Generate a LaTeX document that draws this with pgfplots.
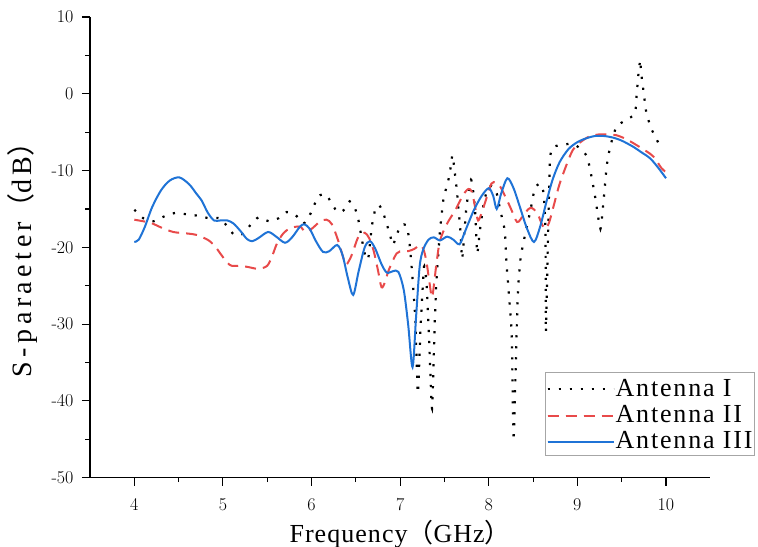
\documentclass[border=0pt]{standalone}
\usepackage{pgfplots}
\pgfplotsset{compat=1.18}
\usepackage{fontspec}
\setmainfont{Liberation Serif}
\newfontfamily\labelfont[LetterSpace=4]{Liberation Serif}
\newfontfamily\ylabelfont[LetterSpace=16]{Liberation Serif}
\newfontfamily\legendfont[LetterSpace=7]{Liberation Serif}
\newfontfamily\tickfont{Latin Modern Roman}
\newfontfamily\cjk{Noto Sans CJK SC}
\newcommand\lp{{\cjk （}}
\newcommand\rp{{\cjk ）}}

\definecolor{antA}{RGB}{0,0,0}
\definecolor{antB}{RGB}{232,74,74}
\definecolor{antC}{RGB}{31,115,214}

\pgfplotstableread{
f dB
4.00 -15.1
4.10 -16.2
4.22 -16.6
4.35 -15.9
4.47 -15.5
4.59 -15.7
4.73 -15.9
4.84 -16.2
4.97 -16.2
5.05 -17.3
5.13 -18.4
5.23 -18.2
5.31 -17.1
5.40 -16.1
5.52 -16.6
5.63 -16.2
5.72 -15.4
5.82 -15.8
5.91 -16.9
5.98 -15.8
6.03 -14.5
6.08 -13.3
6.16 -13.1
6.23 -14.3
6.29 -15.4
6.36 -15.2
6.43 -14.0
6.49 -14.9
6.53 -16.5
6.57 -19.1
6.61 -21.3
6.64 -21.5
6.68 -17.3
6.72 -15.0
6.76 -14.5
6.80 -15.2
6.85 -17.0
6.89 -18.6
6.92 -19.7
6.96 -18.4
7.01 -17.1
7.07 -17.1
7.10 -18.8
7.13 -22.6
7.17 -29.1
7.20 -39.0
7.23 -30.5
7.27 -22.5
7.30 -25.0
7.33 -33.0
7.36 -41.0
7.39 -30.0
7.41 -24.3
7.45 -17.8
7.49 -13.6
7.53 -11.9
7.56 -10.4
7.59 -8.0
7.62 -10.6
7.64 -12.6
7.66 -15.2
7.68 -17.8
7.70 -21.5
7.73 -17.3
7.75 -14.5
7.80 -11.2
7.83 -13.2
7.85 -16.0
7.87 -20.8
7.90 -17.8
7.94 -14.5
7.98 -12.6
8.03 -12.0
8.09 -13.0
8.13 -15.2
8.18 -17.8
8.20 -22.1
8.23 -26.5
8.26 -31.7
8.28 -45.2
8.31 -33.0
8.33 -25.6
8.36 -21.3
8.42 -17.8
8.47 -15.2
8.52 -12.3
8.58 -11.7
8.62 -13.0
8.64 -17.8
8.645 -31.0
8.665 -20.4
8.69 -8.7
8.72 -7.0
8.80 -6.7
8.94 -6.5
9.03 -7.1
9.11 -8.2
9.16 -10.8
9.20 -13.4
9.26 -17.6
9.30 -13.4
9.33 -9.5
9.37 -6.9
9.44 -4.3
9.55 -3.4
9.65 -2.6
9.67 0.0
9.69 2.7
9.71 4.4
9.72 2.7
9.75 0.0
9.78 -2.6
9.84 -4.7
9.88 -5.6
9.94 -7.0
}\antennaI

\pgfplotstableread{
f dB
4.00 -16.4
4.18 -16.8
4.30 -17.4
4.44 -18.0
4.60 -18.2
4.71 -18.4
4.84 -19.1
4.92 -20.0
4.97 -20.8
5.05 -22.0
5.10 -22.4
5.20 -22.4
5.30 -22.6
5.40 -22.8
5.50 -22.4
5.56 -21.0
5.61 -19.5
5.68 -18.2
5.76 -17.5
5.87 -17.3
5.93 -18.0
6.00 -17.6
6.10 -16.6
6.17 -16.4
6.23 -17.0
6.30 -19.1
6.38 -22.1
6.42 -21.8
6.46 -20.8
6.53 -18.6
6.60 -18.1
6.65 -18.8
6.70 -20.4
6.75 -23.0
6.79 -25.2
6.83 -24.5
6.87 -23.0
6.96 -20.8
7.03 -20.5
7.09 -20.5
7.16 -20.2
7.23 -19.7
7.27 -20.5
7.30 -22.1
7.33 -24.5
7.36 -26.5
7.39 -24.0
7.41 -22.1
7.45 -19.1
7.53 -16.9
7.62 -15.2
7.71 -13.2
7.77 -12.4
7.81 -12.8
7.85 -15.0
7.88 -16.5
7.92 -15.5
7.96 -14.1
8.03 -11.7
8.08 -11.6
8.13 -12.1
8.24 -14.7
8.32 -16.7
8.39 -15.8
8.45 -15.0
8.49 -14.9
8.55 -15.6
8.60 -17.0
8.64 -17.6
8.68 -16.8
8.73 -14.7
8.79 -12.1
8.84 -10.4
8.95 -7.3
9.07 -6.0
9.15 -5.5
9.24 -5.3
9.34 -5.3
9.44 -5.4
9.55 -5.9
9.67 -6.7
9.78 -7.5
9.86 -8.2
9.95 -9.7
10.00 -10.2
}\antennaII

\pgfplotstableread{
f dB
4.00 -19.3
4.05 -19.0
4.12 -17.3
4.20 -14.8
4.30 -12.6
4.40 -11.3
4.51 -10.9
4.62 -11.8
4.70 -13.0
4.76 -13.9
4.83 -15.5
4.90 -16.5
4.97 -16.5
5.05 -16.5
5.12 -16.9
5.20 -17.9
5.27 -18.9
5.33 -19.2
5.40 -18.8
5.51 -18.0
5.60 -18.6
5.70 -19.4
5.78 -18.7
5.87 -17.3
5.92 -17.0
5.98 -17.6
6.05 -19.2
6.13 -20.6
6.20 -20.5
6.29 -19.7
6.35 -21.0
6.41 -24.0
6.47 -26.2
6.53 -23.2
6.60 -20.0
6.66 -19.2
6.72 -20.2
6.79 -22.2
6.85 -23.3
6.92 -23.1
6.98 -23.2
7.04 -25.5
7.09 -30.0
7.14 -35.6
7.18 -29.0
7.22 -22.5
7.26 -20.3
7.32 -19.0
7.38 -18.7
7.45 -19.1
7.53 -18.6
7.60 -19.0
7.67 -19.6
7.73 -18.0
7.83 -15.2
7.92 -13.3
8.00 -12.3
8.05 -13.3
8.09 -15.0
8.14 -13.0
8.21 -11.0
8.28 -12.3
8.35 -14.7
8.43 -17.5
8.51 -19.3
8.58 -17.3
8.65 -14.1
8.72 -11.2
8.80 -8.9
8.90 -7.2
9.00 -6.3
9.10 -5.8
9.20 -5.5
9.30 -5.5
9.40 -5.7
9.50 -6.1
9.63 -6.9
9.72 -7.6
9.82 -8.4
9.91 -9.6
10.00 -11.0
}\antennaIII

\begin{document}
\begin{tikzpicture}
\begin{axis}[
  scale only axis,
  width=620.3pt, height=460.7pt,
  xmin=3.5, xmax=10.5,
  ymin=-50, ymax=10,
  xtick={4,5,...,10},
  ytick={-50,-40,...,10},
  minor x tick num=1,
  minor y tick num=1,
  axis x line*=bottom,
  axis y line*=left,
  axis line style={-, line width=1.1pt},
  tick align=outside,
  major tick length=8pt,
  minor tick length=4.5pt,
  every tick/.style={black, line width=1.1pt},
  /pgf/number format/assume math mode=true,
  xticklabel style={font=\tickfont\fontsize{18}{20}\selectfont, yshift=-9pt},
  yticklabel style={font=\tickfont\fontsize{18}{20}\selectfont, xshift=-5pt},
  xlabel={{\labelfont Frequency}\lp{\labelfont GHz}\rp},
  ylabel={{\ylabelfont S-paraeter}\lp{\ylabelfont dB}\rp},
  every axis x label/.style={at={(axis description cs:0.5,0)}, anchor=base,
    yshift=-65pt, font=\fontsize{26}{30}\selectfont},
  every axis y label/.style={at={(axis description cs:-0.0935,0.488)}, rotate=90,
    anchor=base, font=\fontsize{28}{32}\selectfont},
  legend style={
    at={(rel axis cs:0.7335,0.2301)}, anchor=north west,
    draw=gray!70, line width=0.9pt,
    font=\legendfont\fontsize{26}{30}\selectfont,
    inner xsep=1pt, inner ysep=2pt,
    row sep=0pt,
    nodes={inner sep=1pt, text height=21pt, text depth=3.3pt},
  },
  legend cell align=left,
  legend image code/.code={
    \draw[#1] (0pt,-2pt) -- (51pt,-2pt);
    \path (0pt,-2pt) -- (66pt,-2pt);
  },
]
\addplot[antA, line width=2.2pt, line cap=butt, dash pattern=on 2.2pt off 8.8pt, smooth, tension=0.3]
  table[x=f, y=dB] {\antennaI};
\addlegendentry{Antenna I}
\addplot[antB, line width=2pt, dash pattern=on 11pt off 7pt, smooth, tension=0.5]
  table[x=f, y=dB] {\antennaII};
\addlegendentry{Antenna II}
\addplot[antC, line width=2pt, smooth, tension=0.5]
  table[x=f, y=dB] {\antennaIII};
\addlegendentry{Antenna III\hspace{30pt}}
\end{axis}
\pgfresetboundingbox
\path ([shift={(-90pt,-69.3pt)}]current axis.south west)
  rectangle ([shift={(47.7pt,17pt)}]current axis.north east);
\end{tikzpicture}
\end{document}
